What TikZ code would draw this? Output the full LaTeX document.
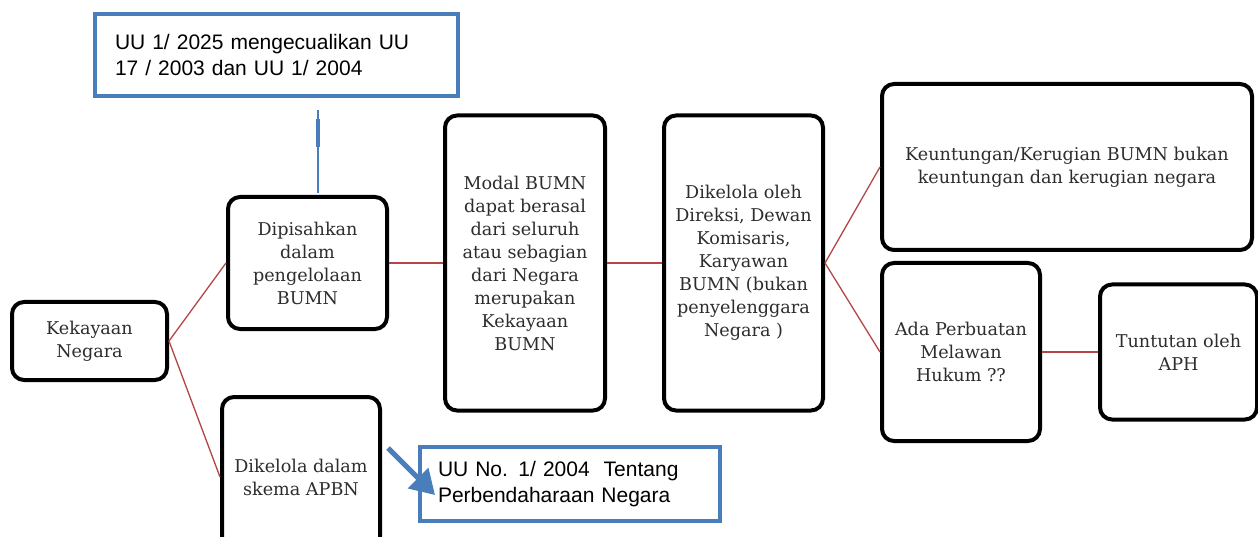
\documentclass[tikz,border=0pt]{standalone}
\usepackage{fontspec}
\setmainfont{DejaVu Serif}
\newfontfamily\arialf{Liberation Sans}
\usetikzlibrary{arrows.meta}
\definecolor{boxblue}{RGB}{74,126,187}
\definecolor{linered}{RGB}{180,70,70}
\definecolor{txtgray}{RGB}{45,45,45}
\tikzset{
  bbox/.style={draw=black, line width=4pt, rounded corners=12pt, fill=white, align=center,
    text=txtgray, font=\fontsize{17.6}{23}\selectfont, inner sep=1pt},
  bluebox/.style={draw=boxblue, line width=4pt, fill=white, align=left, text=black,
    font=\arialf\fontsize{21}{26}\selectfont, inner sep=0pt},
  conn/.style={draw=linered, line width=1.3pt},
}
\begin{document}
\begin{tikzpicture}[x=1pt,y=-1pt]
\useasboundingbox (0,0) rectangle (1258,537);
% boxes
\node[bbox, minimum width=155, minimum height=78] (kek) at (89.5,341) {Kekayaan\\Negara};
\node[bbox, minimum width=159, minimum height=132] (dip) at (307.5,263) {Dipisahkan\\dalam\\pengelolaan\\BUMN};
\node[bbox, minimum width=158, minimum height=160] (apbn) at (301,477) {Dikelola dalam\\skema APBN};
\node[bbox, minimum width=160, minimum height=295] (mod) at (525,263) {Modal BUMN\\dapat berasal\\dari seluruh\\atau sebagian\\dari Negara\\merupakan\\Kekayaan\\BUMN};
\node[bbox, minimum width=159, minimum height=295] (dik) at (743.5,263) {Dikelola oleh\\Direksi, Dewan\\Komisaris,\\Karyawan\\BUMN (bukan\\penyelenggara\\Negara )};
\node[bbox, minimum width=370, minimum height=166] (keu) at (1067,167) {Keuntungan/Kerugian BUMN bukan\\keuntungan dan kerugian negara};
\node[bbox, minimum width=158, minimum height=178] (ada) at (961,352) {Ada Perbuatan\\Melawan\\Hukum ??};
\node[bbox, minimum width=157, minimum height=135] (tun) at (1178.5,352) {Tuntutan oleh\\APH};
% blue boxes
\node[bluebox, minimum width=363, minimum height=82, text width=323] (uu25) at (276.5,55) {UU 1/ 2025 mengecualikan UU\\17 / 2003 dan UU 1/ 2004};
\node[bluebox, minimum width=300, minimum height=74, text width=264] (uu04) at (570,484) {UU No. 1/ 2004\,\, Tentang\\Perbendaharaan Negara};
% connectors
\draw[conn] (kek.east) -- (dip.west);
\draw[conn] (kek.east) -- (apbn.west);
\draw[conn] (dip.east) -- (mod.west);
\draw[conn] (mod.east) -- (dik.west);
\draw[conn] (dik.east) -- (keu.west);
\draw[conn] (dik.east) -- (ada.west);
\draw[conn] (ada.east) -- (tun.west);
% blue vertical line
\coordinate (vt) at (318,110);
\coordinate (vb) at (318,193);
\draw[boxblue, line width=2pt] (vt) -- (vb);
\fill[boxblue] (316,119) rectangle (320,147);
% blue arrow
\coordinate (as) at (388,448);
\coordinate (ae) at (435,495);
\draw[boxblue, line width=5pt, -{Triangle[length=24pt,width=28pt]}] (as) -- (ae);
\end{tikzpicture}
\end{document}
